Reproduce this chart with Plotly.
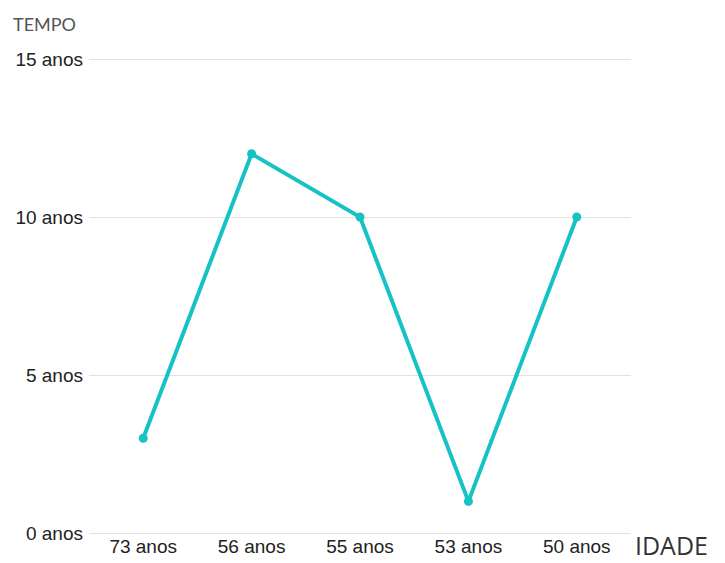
import plotly.graph_objects as go

idades = ["73 anos", "56 anos", "55 anos", "53 anos", "50 anos"]
tempo = [3, 12, 10, 1, 10]
y_ticks = [0, 5, 10, 15]
y_tick_labels = ["0 anos", "5 anos", "10 anos", "15 anos"]

W, H = 725, 563
L, R, T, B = 89, 94, 50, 30
PW, PH = W - L - R, H - T - B
Y_TOP = 15 * PH / 474.0

fig = go.Figure()
fig.add_trace(go.Scatter(
    x=idades, y=tempo, mode="lines+markers",
    line=dict(color="#17C2C4", width=4),
    marker=dict(color="#17C2C4", size=9),
    hoverinfo="x+y",
))

fig.update_layout(
    width=W, height=H,
    margin=dict(l=L, r=R, t=T, b=B),
    paper_bgcolor="white", plot_bgcolor="white",
    showlegend=False,
    font=dict(family="Liberation Sans, Arial, sans-serif", size=19, color="#222"),
    xaxis=dict(
        type="category", range=[-0.5, 4.5], automargin=False,
        showgrid=False, showline=False, zeroline=False,
        ticks="", tickfont=dict(size=19, color="#222"),
        ticklabelstandoff=0,
    ),
    yaxis=dict(
        range=[0, Y_TOP], tickvals=y_ticks, ticktext=y_tick_labels, automargin=False,
        showgrid=True, gridcolor="#e2e2e2", gridwidth=1,
        zeroline=True, zerolinecolor="#e2e2e2", zerolinewidth=1,
        showline=False, ticks="", tickfont=dict(size=19, color="#222"),
        ticklabelstandoff=5,
    ),
    annotations=[
        dict(text="TEMPO", xref="paper", yref="paper", x=(11 - L) / PW, y=1 + (T - 24) / PH,
             xanchor="left", yanchor="middle", showarrow=False,
             font=dict(family="Lato, sans-serif", size=18, color="#555")),
        dict(text="IDADE", xref="paper", yref="paper", x=1 + 3 / PW, y=-(545 - (T + PH)) / PH,
             xanchor="left", yanchor="middle", showarrow=False, borderpad=0,
             font=dict(family="Open Sans, sans-serif", size=25, color="#333")),
    ],
)

fig.write_html("out.html")
